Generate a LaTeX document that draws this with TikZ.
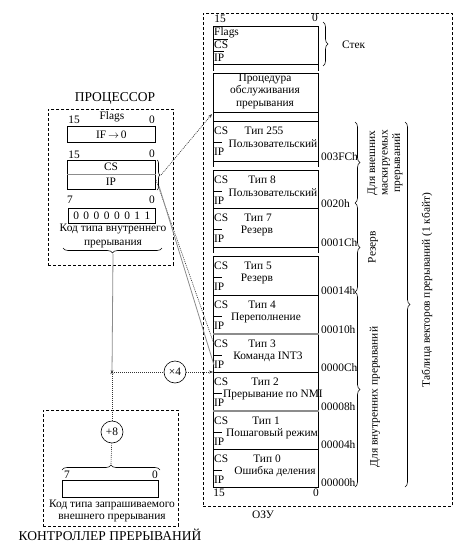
\documentclass[tikz,border=0pt]{standalone}
\usepackage{fontspec}
\setmainfont{Liberation Serif}
\usetikzlibrary{arrows.meta,decorations.pathreplacing,calc}
\begin{document}
\begin{tikzpicture}[x=1pt,y=-1pt,
  font=\fontsize{11.4}{12.5}\selectfont,
  lbl/.style={inner sep=0pt},
  cell/.style={draw, line width=0.7pt, minimum width=105pt, inner sep=0pt, anchor=north west},
  reg/.style={draw, line width=0.7pt, inner sep=0pt, anchor=north west},
  dbox/.style={draw, line width=0.6pt, dash pattern=on 3pt off 2pt, inner sep=0pt, anchor=north west},
  brc/.style={decorate, decoration={brace, amplitude=5pt}, line width=0.6pt},
  sbrc/.style={decorate, decoration={brace, amplitude=3pt}, line width=0.6pt},
  dotc/.style={line width=0.6pt, dash pattern=on 1pt off 1pt, draw=black!80},
  grayc/.style={line width=0.8pt, draw=black!45},
  tip/.style={-{Stealth[length=4pt,width=3pt]}},
  sep/.style={line width=1.6pt, draw=black!45},
  circ/.style={draw, circle, line width=0.6pt, minimum size=22pt, inner sep=0pt},
  big/.style={font=\fontsize{13.5}{15}\selectfont}
]
\useasboundingbox (0,0) rectangle (457,544);

% ---------- RAM ----------
\node[dbox, minimum width=249pt, minimum height=493pt] (ram) at (203,13) {};
\node[lbl] (r15t) at (220,19) {15};
\node[lbl] (r0t) at (315,18) {0};
\node[cell, minimum height=38pt] (stack) at (213,26) {};
\node[lbl, anchor=west] (sfl) at (214,33) {Flags};
\node[lbl, anchor=west] (scs) at (214,45) {CS};
\node[lbl, anchor=west] (sip) at (214,58) {IP};
\draw[line width=0.6pt] (213,39) -- (228,39);
\draw[line width=0.6pt] (213,51) -- (224,51);
\draw[line width=0.7pt] (stack.south west) -- ++(0,6);
\draw[line width=0.7pt] (stack.south east) -- ++(0,6);

\node[cell, minimum height=39pt] (proc) at (213,73) {};
\node[lbl, align=center] (proct) at (265,91) {Процедура\\обслуживания\\прерывания};
\draw[line width=0.7pt] (proc.south west) -- ++(0,4);
\draw[line width=0.7pt] (proc.south east) -- ++(0,4);
\draw[line width=0.7pt] (213,117) -- (213,121);
\draw[line width=0.7pt] (318,117) -- (318,121);

\foreach \n/\t/\b/\ty/\tx/\d/\dx/\a in {
 t255/121/161/Тип 255/264/Пользовательский/273/003FCh,
 t8/170/208/Тип 8/262/Пользовательский/273/0020h,
 t7/208/247/Тип 7/258/Резерв/257/0001Ch,
 t5/256/295/Тип 5/258/Резерв/257/00014h,
 t4/295/334/Тип 4/262/Переполнение/266/00010h,
 t3/334/372/Тип 3/262/Команда INT3/268/0000Ch,
 t2/372/411/Тип 2/265/Прерывание по NMI/273/00008h,
 t1/411/449/Тип 1/266/Пошаговый режим/272/00004h,
 t0/449/487/Тип 0/267/Ошибка деления/275/00000h}
{
 \node[cell, minimum height={(\b-\t)*1pt}] (\n) at (213,\t) {};
 \node[lbl, anchor=west] (\n cs) at (214,{\t+10}) {CS};
 \node[lbl, anchor=west] (\n ip) at (214,{\t+31}) {IP};
 \draw[line width=0.6pt] (213,{\t+21}) -- (222,{\t+21});
 \node[lbl] (\n ty) at (\tx,{\t+10}) {\ty};
 \node[lbl] (\n d) at (\dx,{\t+23}) {\d};
 \node[lbl, anchor=west] (\n a) at (321,{\b-4}) {\a};
}
\draw[line width=0.7pt] (t255.south west) -- ++(0,5);
\draw[line width=0.7pt] (t255.south east) -- ++(0,5);
\draw[line width=0.7pt] (t7.south west) -- ++(0,5);
\draw[line width=0.7pt] (t7.south east) -- ++(0,5);
\draw[sep] (t3.north west) -- (t3.north east);
\draw[sep] (t1.north west) -- (t1.north east);
\node[lbl] (r15b) at (219,493) {15};
\node[lbl] (r0b) at (316,493) {0};
\node[lbl] (ozu) at (263,515) {ОЗУ};

% braces on the right
\draw[brc] (323,22) -- (323,66) coordinate[midway] (stm);
\node[lbl, anchor=west] (stek) at (342,45) {Стек};
\draw[brc] (355,122) -- (355,203);
\node[lbl, rotate=90, align=center] (ext) at (385,163) {Для внешних\\маскируемых\\прерываний};
\draw[brc] (355,203) -- (355,292);
\node[lbl, rotate=90] (res) at (373,247) {Резерв};
\draw[brc] (355,292) -- (355,487);
\node[lbl, rotate=90] (intl) at (375,397) {Для внутренних прерываний};
\draw[brc] (405,122) -- (405,487);
\node[lbl, rotate=90] (tab) at (427,290) {Таблица векторов прерываний (1 кбайт)};

% ---------- Processor ----------
\node[dbox, minimum width=125pt, minimum height=156pt] (cpu) at (48,109) {};
\node[lbl, big] (cpun) at (115,98) {ПРОЦЕССОР};
\node[lbl] (f15) at (74,120) {15};
\node[lbl] (fn) at (112,117) {Flags};
\node[lbl] (f0) at (152,120) {0};
\node[reg, minimum width=88pt, minimum height=16pt] (flags) at (67,126) {IF\,$\rightarrow$\,0};
\node[lbl] (c15) at (74,155) {15};
\node[lbl] (c0) at (152,154) {0};
\node[reg, minimum width=88pt, minimum height=29pt] (csip) at (67,160) {};
\draw[sep, line width=1.2pt] (csip.west) -- (csip.east);
\node[lbl] (ccs) at (111,167) {CS};
\node[lbl] (cip) at (111,182) {IP};
\draw[sbrc] (157,160) -- (157,190);
\coordinate (cstip) at (161,175);
\node[lbl] (b7) at (70,200) {7};
\node[lbl] (b0) at (152,200) {0};
\node[reg, minimum width=87pt, minimum height=15pt] (code) at (68,208) {0\hspace{4.5pt}0\hspace{4.5pt}0\hspace{4.5pt}0\hspace{4.5pt}0\hspace{4.5pt}0\hspace{4.5pt}1\hspace{4.5pt}1};
\node[lbl, align=center] (codet) at (113,236) {Код типа внутреннего\\[2pt]прерывания};
\draw[brc] (162,248) -- (63,248);
\coordinate (codetip) at (113,254);

% ---------- Controller ----------
\node[dbox, minimum width=135pt, minimum height=116pt] (ctl) at (43,410) {};
\node[lbl, big] (ctln) at (110,535) {КОНТРОЛЛЕР ПРЕРЫВАНИЙ};
\node[circ] (p8) at (112,432) {+8};
\draw[brc] (62,470) -- (160,470);
\coordinate (ctip) at (111,464);
\node[lbl] (e7) at (67,475) {7};
\node[lbl] (e0) at (155,475) {0};
\node[reg, minimum width=96pt, minimum height=17pt] (ecode) at (62,480) {};
\node[lbl, align=center] (ecodet) at (112,511) {Код типа запрашиваемого\\внешнего прерывания};

% ---------- connectors ----------
\coordinate (J) at (112,372);
\node[circ] (x4) at (175,372) {×4};
\draw[grayc, tip] (codetip) -- ([yshift=-2pt]J);
\draw[dotc, tip] (p8) -- ([yshift=2pt]J);
\draw[dotc] (ctip) -- (p8);
\draw[dotc] (J) -- (x4);
\draw[dotc, tip] (x4) -- (t2.north west);
\coordinate (vt) at (212,114);
\draw[dotc, tip] (cstip) -- (vt);
\coordinate (a1) at (156,180);
\coordinate (a2) at (159,186);
\draw[dotc] (a1) -- (t3cs.west);
\draw[grayc] (a2) -- (t3ip.west);
\end{tikzpicture}
\end{document}
